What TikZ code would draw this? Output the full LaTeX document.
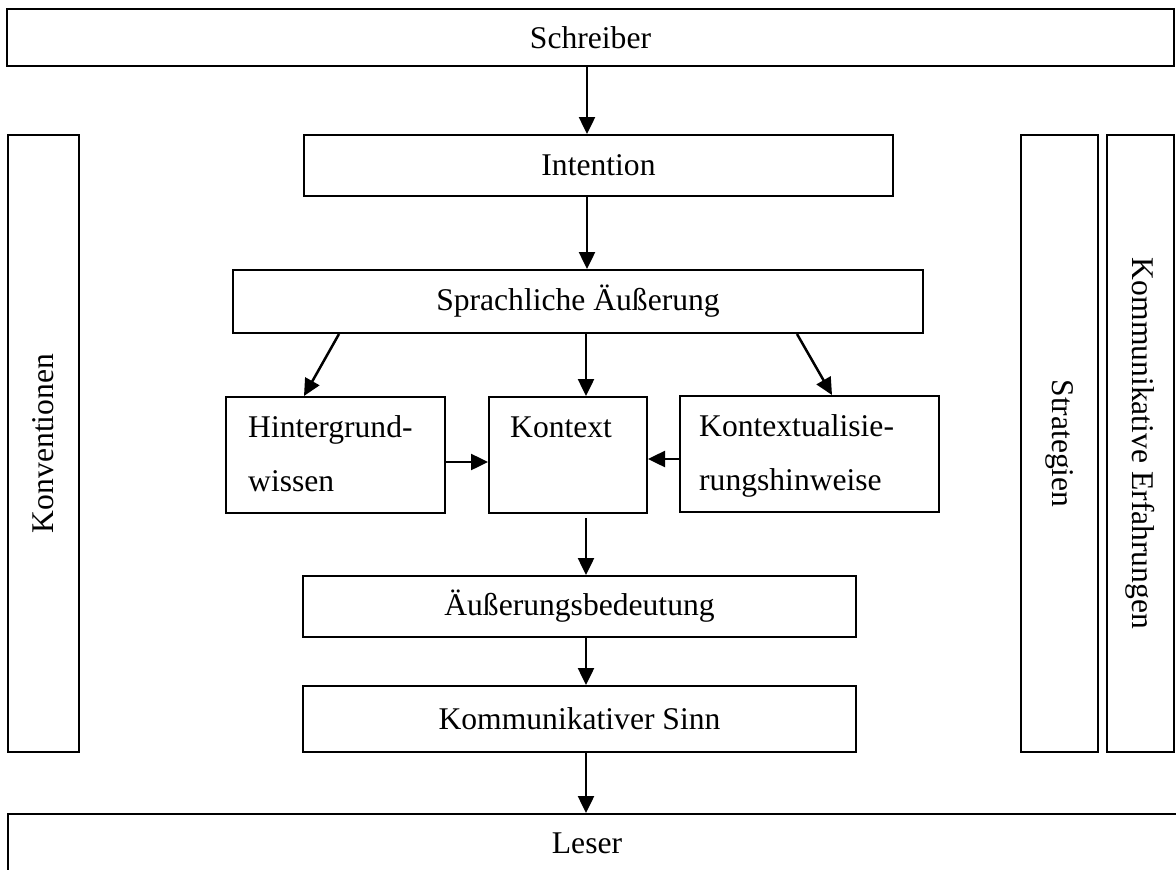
\documentclass[tikz,border=0pt]{standalone}
\usepackage{fontspec}
\setmainfont{Liberation Serif}
\usetikzlibrary{arrows.meta}
\begin{document}
\begin{tikzpicture}[x=1pt,y=-1pt,
  box/.style={draw,line width=2pt,inner sep=0pt,rectangle,
    font=\fontsize{31.6}{38}\selectfont},
  txt/.style={inner sep=0pt,font=\fontsize{31.6}{38}\selectfont},
  arr/.style={line width=2.5pt,-{Triangle[length=17pt,width=16pt]}}]
\useasboundingbox (0,0) rectangle (1176,870);
\clip (0,0) rectangle (1176,870);
\fill[white] (0,0) rectangle (1176,870);
% boxes
\node[box,minimum width=1167,minimum height=57] (sch) at (590.5,37.5) {Schreiber};
\node[box,rotate=90,minimum width=617,minimum height=71] (konv) at (43.5,443.5) {Konventionen};
\node[box,rotate=-90,minimum width=617,minimum height=77] (strat) at (1059.5,443.5) {Strategien};
\node[box,rotate=-90,minimum width=617,minimum height=67] (kerf) at (1140.5,443.5) {Kommunikative Erfahrungen};
\node[box,minimum width=589,minimum height=61] (int) at (598.5,165.5) {Intention};
\node[box,minimum width=690,minimum height=63] (spr) at (578,301.5) {Sprachliche Äußerung};
\node[box,minimum width=219,minimum height=116] (hw) at (335.5,455) {};
\node[box,minimum width=158,minimum height=116] (kx) at (568,455) {};
\node[box,minimum width=259,minimum height=116] (kh) at (809.5,454) {};
\node[box,minimum width=553,minimum height=61] (ab) at (579.5,606.5) {Äußerungsbedeutung};
\node[box,minimum width=553,minimum height=66] (ks) at (579.5,719) {Kommunikativer Sinn};
\node[box,minimum width=1192,minimum height=86] (les) at (604,857) {};
% texts
\node[txt,anchor=base west] (hw1) at (248,437) {Hintergrund-};
\node[txt,anchor=base west] (hw2) at (248,491) {wissen};
\node[txt,anchor=base west] (kx1) at (510,437) {Kontext};
\node[txt,anchor=base west] (kh1) at (699,436) {Kontextualisie-};
\node[txt,anchor=base west] (kh2) at (699,490) {rungshinweise};
\node[txt,anchor=base] (les1) at (587,853) {Leser};
% helper coordinates
\coordinate (mx) at (587,0);
\coordinate (cx) at (586,0);
\coordinate (d1) at (339,0);
\coordinate (d2) at (304,0);
\coordinate (d3) at (797,0);
\coordinate (d4) at (832,0);
\coordinate (y1) at (0,462);
\coordinate (y2) at (0,459);
% connectors
\draw[arr] (sch.south -| mx) -- (int.north -| mx);
\draw[arr] (int.south -| mx) -- (spr.north -| mx);
\draw[arr] (spr.south -| cx) -- (kx.north -| cx);
\draw[arr] (spr.south -| d1) -- (hw.north -| d2);
\draw[arr] (spr.south -| d3) -- (kh.north -| d4);
\draw[arr] (hw.east |- y1) -- (kx.west |- y1);
\draw[arr] (kh.west |- y2) -- (kx.east |- y2);
\draw[arr,shorten <=4pt] (kx.south -| cx) -- (ab.north -| cx);
\draw[arr] (ab.south -| cx) -- (ks.north -| cx);
\draw[arr] (ks.south -| cx) -- (les.north -| cx);
\end{tikzpicture}
\end{document}
